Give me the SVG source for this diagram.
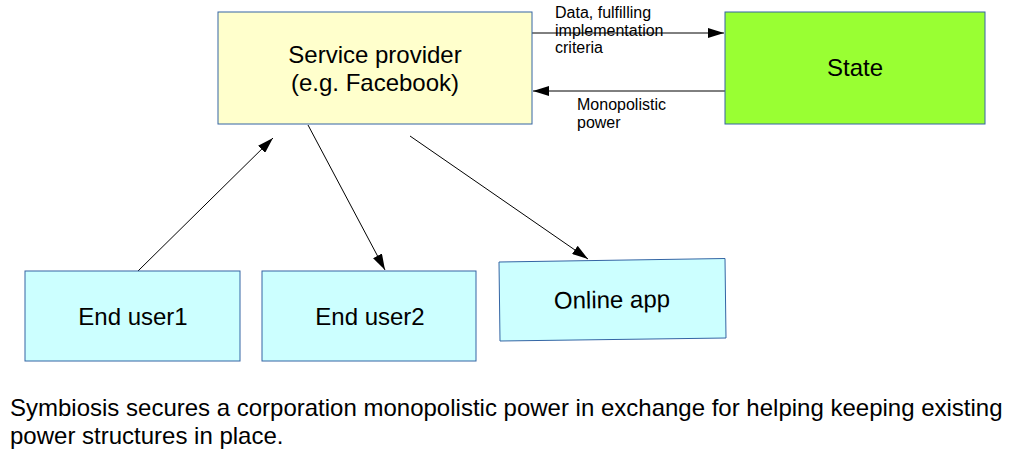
<svg xmlns="http://www.w3.org/2000/svg" width="1018" height="463" viewBox="0 0 1018 463">
<defs>
<style>
text{font-family:"Liberation Sans",Arial,sans-serif;fill:#000}
.box{stroke:#3465a4;stroke-width:1}
.big{font-size:24px;text-anchor:middle}
.small{font-size:16px}
.cap{font-size:24px}
.conn{stroke:#000;stroke-width:1;fill:none;marker-end:url(#ah)}
</style>
<marker id="ah" viewBox="0 0 16 10" refX="16" refY="5" markerWidth="16" markerHeight="10" markerUnits="userSpaceOnUse" orient="auto">
<path d="M0,0 L16,5 L0,10 z" fill="#000"/>
</marker>
</defs>
<rect width="1018" height="463" fill="#fff"/>
<g id="connectors">
<line class="conn" x1="532" y1="33" x2="724" y2="33"/>
<line class="conn" x1="725" y1="91" x2="533" y2="91"/>
<line class="conn" x1="138" y1="271" x2="273" y2="138"/>
<line class="conn" x1="308" y1="125" x2="385" y2="270"/>
<line class="conn" x1="410" y1="136" x2="588" y2="259"/>
</g>
<g id="service-provider">
<rect class="box" x="218" y="12" width="314" height="112" fill="#ffffcc"/>
<text class="big" x="375" y="63">Service provider</text>
<text class="big" x="375" y="91">(e.g. Facebook)</text>
</g>
<g id="state">
<rect class="box" x="725" y="12" width="260" height="112" fill="#99ff33"/>
<text class="big" x="855" y="76">State</text>
</g>
<g id="end-user1">
<rect class="box" x="25" y="271" width="215" height="90" fill="#ccffff"/>
<text class="big" x="133" y="325">End user1</text>
</g>
<g id="end-user2">
<rect class="box" x="262" y="271" width="214" height="90" fill="#ccffff"/>
<text class="big" x="370" y="325">End user2</text>
</g>
<g id="online-app">
<polygon class="box" points="499,262 725,258.5 726,338 500,341" fill="#ccffff"/>
<text class="big" x="612" y="308" transform="rotate(-0.85 612 300)">Online app</text>
</g>
<g id="labels">
<text class="small" x="555" y="18">Data, fulfilling</text>
<text class="small" x="555" y="36">implementation</text>
<text class="small" x="555" y="53">criteria</text>
<text class="small" x="577" y="110">Monopolistic</text>
<text class="small" x="577" y="128">power</text>
</g>
<g id="caption">
<text class="cap" x="10" y="416">Symbiosis secures a corporation monopolistic power in exchange for helping keeping existing</text>
<text class="cap" x="10" y="444">power structures in place.</text>
</g>
</svg>
